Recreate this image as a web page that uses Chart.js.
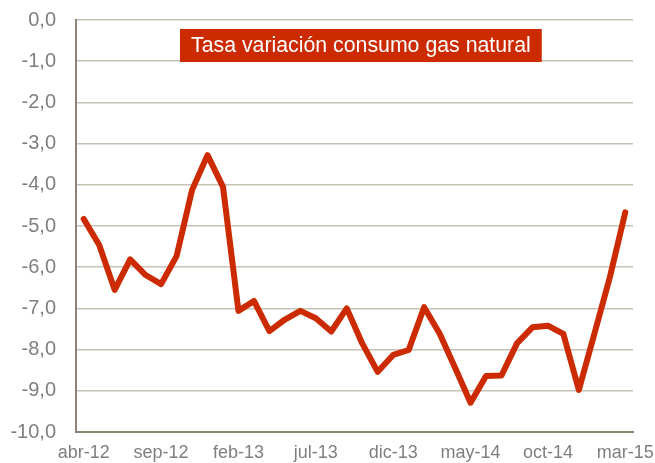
<!DOCTYPE html>
<html>
<head>
<meta charset="utf-8">
<script src="https://cdn.jsdelivr.net/npm/chart.js@4/dist/chart.umd.min.js"></script>
<style>
  html, body { margin: 0; padding: 0; background: #ffffff; }
  #wrap { width: 655px; height: 463px; }
</style>
</head>
<body>
<div id="wrap"><canvas id="c" width="655" height="463"></canvas></div>
<script>
// Monthly categories, April 2012 to March 2015
const months = [
  'abr-12','may-12','jun-12','jul-12','ago-12','sep-12','oct-12','nov-12','dic-12',
  'ene-13','feb-13','mar-13','abr-13','may-13','jun-13','jul-13','ago-13','sep-13',
  'oct-13','nov-13','dic-13','ene-14','feb-14','mar-14','abr-14','may-14','jun-14',
  'jul-14','ago-14','sep-14','oct-14','nov-14','dic-14','ene-15','feb-15','mar-15'
];

// Year-on-year change in natural gas consumption (%)
const tasaVariacion = [
  -4.83, -5.46, -6.55, -5.81, -6.19, -6.41, -5.73, -4.13, -3.28,
  -4.05, -7.06, -6.82, -7.55, -7.27, -7.06, -7.24, -7.56, -7.00,
  -7.85, -8.54, -8.13, -8.01, -6.97, -7.61, -8.44, -9.29, -8.64,
  -8.63, -7.85, -7.46, -7.42, -7.62, -8.98, -7.62, -6.25, -4.67
];

const chartTitle = 'Tasa variación consumo gas natural';
const labelEvery = 5;

const RED = '#cc2a00';
const AXIS = '#8c8475';
const GRID = '#c8c2b6';
const TICK = '#7f7f7f';
const FONT = '"Liberation Sans", Arial, sans-serif';

// Red banner with the series name
const bannerPlugin = {
  id: 'banner',
  afterDraw(chart) {
    const ctx = chart.ctx;
    ctx.save();
    ctx.font = '21.3px ' + FONT;
    const w = ctx.measureText(chartTitle).width;
    const padX = 11;
    const x0 = 180, y0 = 29, h = 33;
    ctx.fillStyle = RED;
    ctx.fillRect(x0, y0, w + padX * 2, h);
    ctx.fillStyle = '#ffffff';
    ctx.textBaseline = 'middle';
    ctx.textAlign = 'left';
    ctx.fillText(chartTitle, x0 + padX, y0 + h / 2 + 1);
    ctx.restore();
  }
};

// keep the plot frame fixed regardless of label overhang
function noOverhang(scale) {
  scale.paddingTop = 0;
  scale.paddingBottom = 0;
  scale.paddingLeft = 0;
  scale.paddingRight = 0;
}

new Chart(document.getElementById('c'), {
  type: 'line',
  data: {
    labels: months,
    datasets: [{
      data: tasaVariacion,
      borderColor: RED,
      borderWidth: 6,
      pointRadius: 0,
      tension: 0,
      borderJoinStyle: 'round',
      borderCapStyle: 'round',
      fill: false
    }]
  },
  options: {
    responsive: false,
    animation: false,
    devicePixelRatio: 1,
    layout: { padding: { left: 0, right: 22, top: 20, bottom: 0 } },
    plugins: {
      legend: { display: false },
      title: { display: false },
      tooltip: { enabled: false }
    },
    scales: {
      x: {
        offset: true,
        grid: { display: false, drawTicks: false },
        border: { display: true, color: AXIS, width: 2 },
        ticks: {
          autoSkip: false,
          maxRotation: 0,
          padding: 10,
          color: TICK,
          font: { family: FONT, size: 18 },
          callback: function (v, i) { return i % labelEvery === 0 ? months[i] : ''; }
        },
        afterFit(scale) { scale.height = 31; noOverhang(scale); }
      },
      y: {
        min: -10,
        max: 0,
        grid: { color: GRID, lineWidth: 1.5, drawTicks: false },
        border: { display: true, color: AXIS, width: 2 },
        ticks: {
          stepSize: 1,
          padding: 20,
          color: TICK,
          font: { family: FONT, size: 20 },
          callback: function (v) { return v.toFixed(1).replace('.', ','); }
        },
        afterFit(scale) { scale.width = 76; noOverhang(scale); }
      }
    }
  },
  plugins: [bannerPlugin]
});
</script>
</body>
</html>
